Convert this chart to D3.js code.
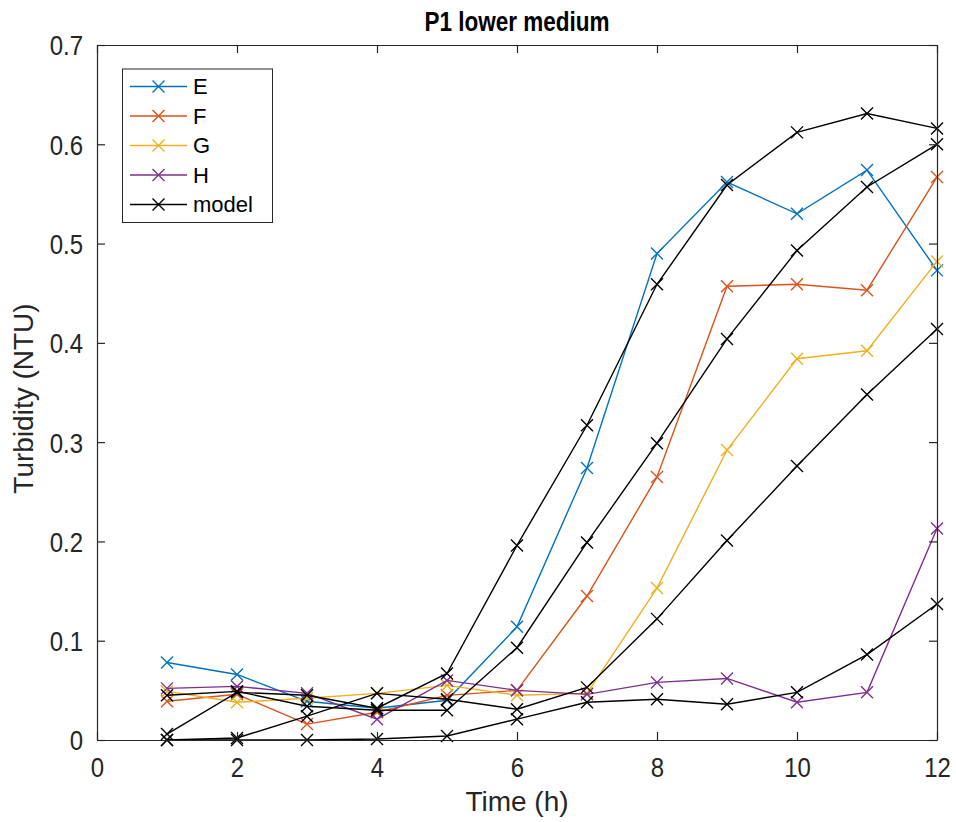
<!DOCTYPE html>
<html>
<head>
<meta charset="utf-8">
<script src="https://cdn.jsdelivr.net/npm/d3@7"></script>
<style>
  html, body { margin: 0; padding: 0; background: #fff; }
  svg { display: block; font-family: "Liberation Sans", Arial, Helvetica, sans-serif; }
</style>
</head>
<body>
<svg id="chart" width="956" height="822"></svg>
<script>
// ---- data ----
const hours = [1, 2, 3, 4, 5, 6, 7, 8, 9, 10, 11, 12];
const seriesE = [0.078, 0.066, 0.039, 0.032, 0.040, 0.114, 0.274, 0.490, 0.562, 0.530, 0.574, 0.473];
const seriesF = [0.039, 0.046, 0.016, 0.028, 0.045, 0.050, 0.145, 0.265, 0.457, 0.459, 0.453, 0.567];
const seriesG = [0.049, 0.038, 0.042, 0.047, 0.055, 0.045, 0.047, 0.153, 0.292, 0.384, 0.392, 0.482];
const seriesH = [0.052, 0.054, 0.047, 0.021, 0.060, 0.050, 0.046, 0.058, 0.062, 0.038, 0.048, 0.213];
const modelE = [0.006, 0.048, 0.045, 0.032, 0.067, 0.196, 0.317, 0.459, 0.559, 0.612, 0.631, 0.616];
const modelF = [0.045, 0.049, 0.034, 0.030, 0.030, 0.093, 0.199, 0.299, 0.404, 0.493, 0.557, 0.600];
const modelG = [0.000, 0.002, 0.024, 0.047, 0.041, 0.031, 0.053, 0.122, 0.201, 0.276, 0.348, 0.414];
const modelH = [0.000, 0.000, 0.000, 0.001, 0.004, 0.021, 0.038, 0.041, 0.036, 0.048, 0.086, 0.137];
const seriesNames = ["E", "F", "G", "H"];
const legendLabels = ["E", "F", "G", "H", "model"];
const xTicks = [0, 2, 4, 6, 8, 10, 12];
const yTicks = [0, 0.1, 0.2, 0.3, 0.4, 0.5, 0.6, 0.7];
const colors = ["#0072BD", "#D95319", "#EDB120", "#7E2F8E", "#000000"];

const measured = [seriesE, seriesF, seriesG, seriesH];
const models = [modelE, modelF, modelG, modelH];

// ---- layout ----
const svg = d3.select("#chart");
const mLeft = 97, mRight = 937, mTop = 45, mBottom = 740;
const x = d3.scaleLinear().domain([0, 12]).range([mLeft, mRight]);
const y = d3.scaleLinear().domain([0, 0.7]).range([mBottom, mTop]);
const axisColor = "#262626";
const tickLen = 8;
const tickStretch = 1.15;

const line = d3.line().x((d, i) => x(hours[i])).y(d => y(d));
const plot = svg.append("g");

function drawSeries(vals, color) {
  plot.append("path").datum(vals).attr("d", line).attr("fill", "none")
    .attr("stroke", color).attr("stroke-width", 1.4);
  const s = 6;
  plot.append("g").selectAll("path").data(vals).join("path")
    .attr("d", (d, i) => {
      const cx = x(hours[i]), cy = y(d);
      return `M${cx - s},${cy - s}L${cx + s},${cy + s}M${cx - s},${cy + s}L${cx + s},${cy - s}`;
    })
    .attr("stroke", color).attr("stroke-width", 1.4).attr("fill", "none");
}
measured.forEach((vals, k) => drawSeries(vals, colors[k]));
models.forEach(vals => drawSeries(vals, colors[4]));

// axes (MATLAB style: ticks inward, box on)
const gx = svg.append("g").attr("transform", `translate(0,${mBottom})`)
  .call(d3.axisBottom(x).tickValues(xTicks).tickSizeInner(-tickLen).tickSizeOuter(0).tickPadding(15));
const gxt = svg.append("g").attr("transform", `translate(0,${mTop})`)
  .call(d3.axisTop(x).tickValues(xTicks).tickSizeInner(-tickLen).tickSizeOuter(0).tickFormat(""));
const gy = svg.append("g").attr("transform", `translate(${mLeft},0)`)
  .call(d3.axisLeft(y).tickValues(yTicks).tickSizeInner(-tickLen).tickSizeOuter(0).tickPadding(14)
    .tickFormat(d => d === 0 ? "0" : d3.format(".1f")(d)));
const gyr = svg.append("g").attr("transform", `translate(${mRight},0)`)
  .call(d3.axisRight(y).tickValues(yTicks).tickSizeInner(-tickLen).tickSizeOuter(0).tickFormat(""));
[gx, gxt, gy, gyr].forEach(g => {
  g.selectAll("path.domain").attr("stroke", axisColor).attr("stroke-width", 1.2);
  g.selectAll(".tick line").attr("stroke", axisColor).attr("stroke-width", 1.2);
  g.selectAll(".tick text").attr("fill", axisColor).style("font-size", "24px")
    .style("font-family", "'Liberation Sans', Arial, sans-serif")
    .attr("transform", `scale(1,${tickStretch})`);
});
gx.selectAll(".tick text").attr("dy", "0.71em");
gy.selectAll(".tick text").attr("dy", "0.36em");

// title and labels
svg.append("text").attr("transform", `translate(${(mLeft + mRight) / 2},31) scale(1,1.2)`)
  .attr("text-anchor", "middle")
  .style("font-size", "22.5px").style("font-weight", "bold").attr("fill", "#000").text("P1 lower medium");
svg.append("text").attr("x", (mLeft + mRight) / 2).attr("y", 811).attr("text-anchor", "middle")
  .style("font-size", "28px").attr("fill", axisColor).text("Time (h)");
svg.append("text").attr("transform", `translate(33,${(mTop + mBottom) / 2 + 6}) rotate(-90)`)
  .attr("text-anchor", "middle").style("font-size", "28px").attr("fill", axisColor).text("Turbidity (NTU)");

// legend
const lg = svg.append("g");
lg.append("rect").attr("x", 122.5).attr("y", 69).attr("width", 150).attr("height", 153.5)
  .attr("fill", "#fff").attr("stroke", axisColor).attr("stroke-width", 1);
legendLabels.forEach((lab, i) => {
  const cy = 86.5 + i * 29.5;
  const c = colors[i];
  lg.append("line").attr("x1", 130).attr("x2", 187).attr("y1", cy).attr("y2", cy)
    .attr("stroke", c).attr("stroke-width", 1.4);
  const s = 6, cx = 158.5;
  lg.append("path").attr("d", `M${cx - s},${cy - s}L${cx + s},${cy + s}M${cx - s},${cy + s}L${cx + s},${cy - s}`)
    .attr("stroke", c).attr("stroke-width", 1.4);
  lg.append("text").attr("x", 193).attr("y", cy).attr("dy", "0.36em")
    .style("font-size", "22px").attr("fill", "#000").text(lab);
});
</script>
</body>
</html>
